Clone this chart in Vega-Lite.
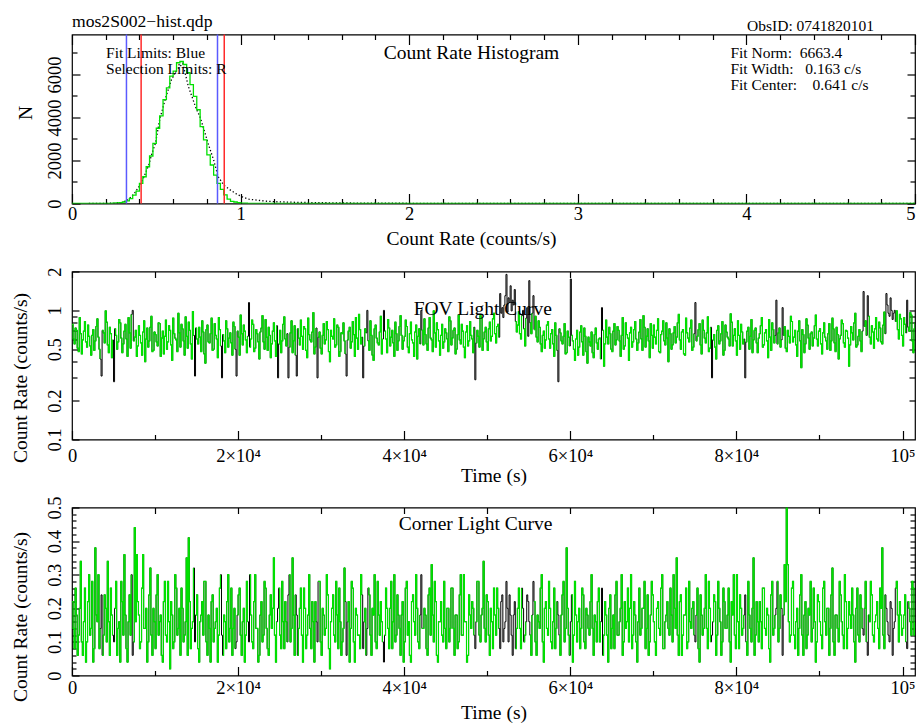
{
  "$schema": "https://vega.github.io/schema/vega-lite/v6.json",
  "padding": {"left": 10, "top": 11.5, "right": 0, "bottom": 0},
  "spacing": 68,
  "bounds": "flush",
  "config": {
    "background": "white",
    "font": "Liberation Serif",
    "view": {"stroke": "#000", "strokeWidth": 1.2},
    "axis": {"grid": false, "domain": false, "tickColor": "#000", "tickWidth": 1.2, "labelColor": "#000", "titleColor": "#000", "labelFont": "Liberation Serif", "titleFont": "Liberation Serif", "labelFontSize": 18.5, "titleFontSize": 19.5, "titleFontWeight": "normal", "labelFlush": false, "labelOverlap": false, "labelBound": false}
  },
  "datasets": {
    "lc": [
{"t":0,"f":0.78,"c":0.22,"s":1},{"t":125,"f":0.60,"c":0.14,"s":1},{"t":250,"f":0.55,"c":0.08,"s":1},{"t":375,"f":0.73,"c":0.26,"s":1},{"t":500,"f":0.70,"c":0.18,"s":1},{"t":625,"f":0.51,"c":0.06,"s":1},{"t":750,"f":0.48,"c":0.12,"s":1},{"t":875,"f":0.88,"c":0.20,"s":1},{"t":1000,"f":0.66,"c":0.34,"s":1},{"t":1125,"f":0.46,"c":0.10,"s":1},
{"t":1250,"f":0.59,"c":0.06,"s":1},{"t":1375,"f":0.69,"c":0.16,"s":1},{"t":1500,"f":0.82,"c":0.26,"s":1},{"t":1625,"f":0.57,"c":0.04,"s":1},{"t":1750,"f":0.52,"c":0.10,"s":1},{"t":1875,"f":0.77,"c":0.22,"s":1},{"t":2000,"f":0.63,"c":0.30,"s":1},{"t":2125,"f":0.53,"c":0.12,"s":1},{"t":2250,"f":0.45,"c":0.14,"s":1},{"t":2375,"f":0.64,"c":0.28,"s":1},
{"t":2500,"f":0.71,"c":0.04,"s":1},{"t":2625,"f":0.49,"c":0.08,"s":1},{"t":2750,"f":0.58,"c":0.38,"s":1},{"t":2875,"f":0.75,"c":0.18,"s":1},{"t":3000,"f":0.86,"c":0.16,"s":1},{"t":3125,"f":0.62,"c":0.30,"s":1},{"t":3250,"f":0.50,"c":0.08,"s":1},{"t":3375,"f":0.42,"c":0.14,"s":1},{"t":3500,"f":0.31,"c":0.24,"s":0},{"t":3625,"f":0.70,"c":0.06,"s":2},
{"t":3750,"f":0.67,"c":0.12,"s":2},{"t":3875,"f":0.56,"c":0.24,"s":2},{"t":4000,"f":0.99,"c":0.20,"s":2},{"t":4125,"f":0.81,"c":0.10,"s":2},{"t":4250,"f":0.54,"c":0.34,"s":2},{"t":4375,"f":0.47,"c":0.16,"s":2},{"t":4500,"f":0.74,"c":0.06,"s":2},{"t":4625,"f":0.66,"c":0.26,"s":2},{"t":4750,"f":0.43,"c":0.18,"s":2},{"t":4875,"f":0.59,"c":0.12,"s":2},
{"t":5000,"f":0.28,"c":0.10,"s":0},{"t":5125,"f":0.72,"c":0.20,"s":3},{"t":5250,"f":0.64,"c":0.28,"s":3},{"t":5375,"f":0.50,"c":0.06,"s":3},{"t":5500,"f":0.57,"c":0.14,"s":3},{"t":5625,"f":0.85,"c":0.16,"s":3},{"t":5750,"f":0.80,"c":0.04,"s":3},{"t":5875,"f":0.61,"c":0.28,"s":3},{"t":6000,"f":0.47,"c":0.22,"s":3},{"t":6125,"f":0.55,"c":0.12,"s":3},
{"t":6250,"f":0.69,"c":0.36,"s":3},{"t":6375,"f":0.78,"c":0.18,"s":3},{"t":6500,"f":0.60,"c":0.08,"s":3},{"t":6625,"f":0.44,"c":0.04,"s":3},{"t":6750,"f":0.88,"c":0.16,"s":3},{"t":6875,"f":0.67,"c":0.24,"s":3},{"t":7000,"f":0.51,"c":0.12,"s":3},{"t":7125,"f":0.93,"c":0.30,"s":3},{"t":7250,"f":1.0,"c":0.06,"s":0},{"t":7375,"f":0.58,"c":0.10,"s":4},
{"t":7500,"f":0.62,"c":0.44,"s":4},{"t":7625,"f":0.70,"c":0.16,"s":4},{"t":7750,"f":0.44,"c":0.36,"s":4},{"t":7875,"f":0.53,"c":0.22,"s":4},{"t":8000,"f":0.76,"c":0.18,"s":4},{"t":8125,"f":0.64,"c":0.08,"s":4},{"t":8250,"f":0.56,"c":0.10,"s":4},{"t":8375,"f":0.45,"c":0.26,"s":4},{"t":8500,"f":0.68,"c":0.36,"s":4},{"t":8625,"f":0.83,"c":0.14,"s":4},
{"t":8750,"f":0.40,"c":0.14,"s":4},{"t":8875,"f":0.60,"c":0.20,"s":4},{"t":9000,"f":0.73,"c":0.04,"s":4},{"t":9125,"f":0.52,"c":0.10,"s":4},{"t":9250,"f":0.58,"c":0.24,"s":4},{"t":9375,"f":0.74,"c":0.32,"s":4},{"t":9500,"f":0.90,"c":0.12,"s":4},{"t":9625,"f":0.48,"c":0.06,"s":4},{"t":9750,"f":0.49,"c":0.20,"s":4},{"t":9875,"f":0.68,"c":0.16,"s":4},
{"t":10000,"f":0.65,"c":0.08,"s":4},{"t":10125,"f":0.57,"c":0.24,"s":4},{"t":10250,"f":0.53,"c":0.30,"s":4},{"t":10375,"f":0.80,"c":0.12,"s":4},{"t":10500,"f":0.79,"c":0.16,"s":4},{"t":10625,"f":0.44,"c":0.18,"s":4},{"t":10750,"f":0.61,"c":0.06,"s":4},{"t":10875,"f":0.69,"c":0.04,"s":4},{"t":11000,"f":0.46,"c":0.22,"s":4},{"t":11125,"f":0.63,"c":0.28,"s":4},
{"t":11250,"f":0.84,"c":0.12,"s":4},{"t":11375,"f":0.50,"c":0.10,"s":4},{"t":11500,"f":0.57,"c":0.28,"s":4},{"t":11625,"f":0.76,"c":0.16,"s":4},{"t":11750,"f":0.70,"c":0.02,"s":4},{"t":11875,"f":0.54,"c":0.22,"s":4},{"t":12000,"f":0.41,"c":0.18,"s":4},{"t":12125,"f":0.87,"c":0.08,"s":4},{"t":12250,"f":0.66,"c":0.10,"s":4},{"t":12375,"f":0.61,"c":0.30,"s":4},
{"t":12500,"f":0.59,"c":0.26,"s":4},{"t":12625,"f":0.48,"c":0.12,"s":4},{"t":12750,"f":0.95,"c":0.14,"s":4},{"t":12875,"f":0.67,"c":0.20,"s":4},{"t":13000,"f":0.52,"c":0.06,"s":4},{"t":13125,"f":0.78,"c":0.26,"s":4},{"t":13250,"f":0.72,"c":0.20,"s":4},{"t":13375,"f":0.58,"c":0.10,"s":4},{"t":13500,"f":0.45,"c":0.12,"s":4},{"t":13625,"f":0.89,"c":0.16,"s":4},
{"t":13750,"f":0.63,"c":0.35,"s":4},{"t":13875,"f":0.51,"c":0.06,"s":4},{"t":14000,"f":0.81,"c":0.41,"s":4},{"t":14125,"f":0.70,"c":0.22,"s":4},{"t":14250,"f":0.55,"c":0.08,"s":4},{"t":14375,"f":0.42,"c":0.14,"s":4},{"t":14500,"f":0.98,"c":0.16,"s":4},{"t":14625,"f":0.64,"c":0.32,"s":4},{"t":14750,"f":0.31,"c":0.10,"s":0},{"t":14875,"f":0.73,"c":0.18,"s":5},
{"t":15000,"f":0.60,"c":0.24,"s":5},{"t":15125,"f":0.55,"c":0.08,"s":5},{"t":15250,"f":0.74,"c":0.04,"s":5},{"t":15375,"f":0.62,"c":0.16,"s":5},{"t":15500,"f":0.48,"c":0.18,"s":5},{"t":15625,"f":0.83,"c":0.22,"s":5},{"t":15750,"f":0.68,"c":0.12,"s":5},{"t":15875,"f":0.46,"c":0.28,"s":5},{"t":16000,"f":0.39,"c":0.28,"s":5},{"t":16125,"f":0.71,"c":0.10,"s":5},
{"t":16250,"f":0.77,"c":0.06,"s":5},{"t":16375,"f":0.57,"c":0.18,"s":5},{"t":16500,"f":0.56,"c":0.14,"s":5},{"t":16625,"f":0.66,"c":0.04,"s":5},{"t":16750,"f":0.87,"c":0.22,"s":5},{"t":16875,"f":0.49,"c":0.24,"s":5},{"t":17000,"f":0.50,"c":0.10,"s":5},{"t":17125,"f":0.79,"c":0.14,"s":5},{"t":17250,"f":0.64,"c":0.16,"s":5},{"t":17375,"f":0.60,"c":0.20,"s":5},
{"t":17500,"f":0.43,"c":0.04,"s":5},{"t":17625,"f":0.88,"c":0.12,"s":5},{"t":17750,"f":0.71,"c":0.26,"s":5},{"t":17875,"f":0.53,"c":0.30,"s":5},{"t":18000,"f":0.30,"c":0.12,"s":0},{"t":18125,"f":0.65,"c":0.06,"s":6},{"t":18250,"f":0.58,"c":0.18,"s":6},{"t":18375,"f":0.47,"c":0.16,"s":6},{"t":18500,"f":0.83,"c":0.08,"s":6},{"t":18625,"f":0.72,"c":0.22,"s":6},
{"t":18750,"f":0.52,"c":0.30,"s":6},{"t":18875,"f":0.61,"c":0.10,"s":6},{"t":19000,"f":0.67,"c":0.14,"s":6},{"t":19125,"f":0.56,"c":0.26,"s":6},{"t":19250,"f":0.45,"c":0.06,"s":6},{"t":19375,"f":0.81,"c":0.14,"s":6},{"t":19500,"f":0.75,"c":0.20,"s":6},{"t":19625,"f":0.50,"c":0.08,"s":6},{"t":19750,"f":0.31,"c":0.10,"s":0},{"t":19875,"f":0.69,"c":0.18,"s":7},
{"t":20000,"f":0.62,"c":0.24,"s":7},{"t":20125,"f":0.45,"c":0.26,"s":7},{"t":20250,"f":0.92,"c":0.12,"s":7},{"t":20375,"f":0.66,"c":0.06,"s":7},{"t":20500,"f":0.54,"c":0.16,"s":7},{"t":20625,"f":0.77,"c":0.20,"s":7},{"t":20750,"f":0.69,"c":0.04,"s":7},{"t":20875,"f":0.59,"c":0.12,"s":7},{"t":21000,"f":0.47,"c":0.28,"s":7},{"t":21125,"f":0.63,"c":0.16,"s":7},
{"t":21250,"f":1.15,"c":0.10,"s":0},{"t":21375,"f":0.52,"c":0.30,"s":8},{"t":21500,"f":0.60,"c":0.18,"s":8},{"t":21625,"f":0.84,"c":0.10,"s":8},{"t":21750,"f":0.78,"c":0.08,"s":8},{"t":21875,"f":0.48,"c":0.22,"s":8},{"t":22000,"f":0.51,"c":0.30,"s":8},{"t":22125,"f":0.71,"c":0.14,"s":8},{"t":22250,"f":0.66,"c":0.14,"s":8},{"t":22375,"f":0.57,"c":0.04,"s":8},
{"t":22500,"f":0.42,"c":0.06,"s":8},{"t":22625,"f":0.68,"c":0.18,"s":8},{"t":22750,"f":0.73,"c":0.22,"s":8},{"t":22875,"f":0.91,"c":0.10,"s":8},{"t":23000,"f":0.57,"c":0.12,"s":8},{"t":23125,"f":0.50,"c":0.28,"s":8},{"t":23250,"f":0.85,"c":0.26,"s":8},{"t":23375,"f":0.62,"c":0.14,"s":8},{"t":23500,"f":0.49,"c":0.08,"s":8},{"t":23625,"f":0.74,"c":0.06,"s":8},
{"t":23750,"f":0.64,"c":0.18,"s":8},{"t":23875,"f":0.43,"c":0.24,"s":8},{"t":24000,"f":0.55,"c":0.14,"s":8},{"t":24125,"f":0.69,"c":0.20,"s":8},{"t":24250,"f":0.80,"c":0.35,"s":8},{"t":24375,"f":0.58,"c":0.12,"s":8},{"t":24500,"f":0.44,"c":0.04,"s":8},{"t":24625,"f":0.76,"c":0.16,"s":8},{"t":24750,"f":0.30,"c":0.20,"s":0},{"t":24875,"f":0.55,"c":0.26,"s":9},
{"t":25000,"f":0.70,"c":0.12,"s":9},{"t":25125,"f":0.47,"c":0.08,"s":9},{"t":25250,"f":0.58,"c":0.28,"s":9},{"t":25375,"f":0.78,"c":0.16,"s":9},{"t":25500,"f":0.89,"c":0.08,"s":9},{"t":25625,"f":0.60,"c":0.22,"s":9},{"t":25750,"f":0.53,"c":0.16,"s":9},{"t":25875,"f":0.66,"c":0.10,"s":9},{"t":26000,"f":0.30,"c":0.24,"s":0},{"t":26125,"f":0.52,"c":0.30,"s":10},
{"t":26250,"f":0.67,"c":0.10,"s":10},{"t":26375,"f":0.83,"c":0.14,"s":10},{"t":26500,"f":0.47,"c":0.35,"s":10},{"t":26625,"f":0.58,"c":0.18,"s":10},{"t":26750,"f":0.76,"c":0.06,"s":10},{"t":26875,"f":0.45,"c":0.24,"s":10},{"t":27000,"f":0.31,"c":0.18,"s":0},{"t":27125,"f":0.72,"c":0.06,"s":11},{"t":27250,"f":0.61,"c":0.14,"s":11},{"t":27375,"f":0.54,"c":0.20,"s":11},
{"t":27500,"f":0.84,"c":0.26,"s":11},{"t":27625,"f":0.63,"c":0.12,"s":11},{"t":27750,"f":0.50,"c":0.04,"s":11},{"t":27875,"f":0.75,"c":0.26,"s":11},{"t":28000,"f":0.72,"c":0.20,"s":11},{"t":28125,"f":0.49,"c":0.08,"s":11},{"t":28250,"f":0.43,"c":0.12,"s":11},{"t":28375,"f":0.87,"c":0.18,"s":11},{"t":28500,"f":0.65,"c":0.30,"s":11},{"t":28625,"f":0.59,"c":0.14,"s":11},
{"t":28750,"f":0.57,"c":0.08,"s":11},{"t":28875,"f":0.68,"c":0.22,"s":11},{"t":29000,"f":0.96,"c":0.16,"s":11},{"t":29125,"f":0.46,"c":0.04,"s":11},{"t":29250,"f":0.52,"c":0.22,"s":11},{"t":29375,"f":0.73,"c":0.16,"s":11},{"t":29500,"f":0.30,"c":0.10,"s":0},{"t":29625,"f":0.62,"c":0.28,"s":12},{"t":29750,"f":0.68,"c":0.28,"s":12},{"t":29875,"f":0.51,"c":0.10,"s":12},
{"t":30000,"f":0.46,"c":0.06,"s":12},{"t":30125,"f":0.64,"c":0.20,"s":12},{"t":30250,"f":0.79,"c":0.18,"s":12},{"t":30375,"f":0.55,"c":0.12,"s":12},{"t":30500,"f":0.59,"c":0.14,"s":12},{"t":30625,"f":0.82,"c":0.30,"s":12},{"t":30750,"f":0.71,"c":0.24,"s":12},{"t":30875,"f":0.48,"c":0.08,"s":12},{"t":31000,"f":0.40,"c":0.02,"s":12},{"t":31125,"f":0.70,"c":0.16,"s":12},
{"t":31250,"f":0.63,"c":0.20,"s":12},{"t":31375,"f":0.60,"c":0.24,"s":12},{"t":31500,"f":0.86,"c":0.12,"s":12},{"t":31625,"f":0.52,"c":0.10,"s":12},{"t":31750,"f":0.54,"c":0.28,"s":12},{"t":31875,"f":0.77,"c":0.18,"s":12},{"t":32000,"f":0.74,"c":0.08,"s":12},{"t":32125,"f":0.44,"c":0.26,"s":12},{"t":32250,"f":0.48,"c":0.16,"s":12},{"t":32375,"f":0.67,"c":0.06,"s":12},
{"t":32500,"f":0.66,"c":0.10,"s":12},{"t":32625,"f":0.80,"c":0.14,"s":12},{"t":32750,"f":0.58,"c":0.32,"s":12},{"t":32875,"f":0.46,"c":0.22,"s":12},{"t":33000,"f":0.31,"c":0.06,"s":0},{"t":33125,"f":0.59,"c":0.16,"s":13},{"t":33250,"f":0.69,"c":0.22,"s":13},{"t":33375,"f":0.74,"c":0.04,"s":13},{"t":33500,"f":0.51,"c":0.14,"s":13},{"t":33625,"f":0.57,"c":0.28,"s":13},
{"t":33750,"f":0.82,"c":0.26,"s":13},{"t":33875,"f":0.65,"c":0.10,"s":13},{"t":34000,"f":0.44,"c":0.04,"s":13},{"t":34125,"f":0.88,"c":0.20,"s":13},{"t":34250,"f":0.61,"c":0.18,"s":13},{"t":34375,"f":0.50,"c":0.12,"s":13},{"t":34500,"f":0.93,"c":0.12,"s":13},{"t":34625,"f":0.71,"c":0.08,"s":13},{"t":34750,"f":0.55,"c":0.30,"s":13},{"t":34875,"f":0.62,"c":0.24,"s":13},
{"t":35000,"f":0.30,"c":0.08,"s":0},{"t":35125,"f":0.53,"c":0.16,"s":14},{"t":35250,"f":0.72,"c":0.20,"s":14},{"t":35375,"f":0.67,"c":0.06,"s":14},{"t":35500,"f":1.0,"c":0.14,"s":0},{"t":35625,"f":0.58,"c":0.26,"s":15},{"t":35750,"f":0.49,"c":0.24,"s":15},{"t":35875,"f":0.83,"c":0.12,"s":15},{"t":36000,"f":0.64,"c":0.06,"s":15},{"t":36125,"f":0.45,"c":0.20,"s":15},
{"t":36250,"f":0.41,"c":0.18,"s":15},{"t":36375,"f":0.72,"c":0.30,"s":15},{"t":36500,"f":0.77,"c":0.10,"s":15},{"t":36625,"f":0.61,"c":0.08,"s":15},{"t":36750,"f":0.56,"c":0.28,"s":15},{"t":36875,"f":0.54,"c":0.18,"s":15},{"t":37000,"f":0.68,"c":0.12,"s":15},{"t":37125,"f":0.90,"c":0.22,"s":15},{"t":37250,"f":0.46,"c":0.16,"s":15},{"t":37375,"f":0.60,"c":0.10,"s":15},
{"t":37500,"f":1.0,"c":0.04,"s":0},{"t":37625,"f":0.69,"c":0.12,"s":16},{"t":37750,"f":0.60,"c":0.26,"s":16},{"t":37875,"f":0.47,"c":0.20,"s":16},{"t":38000,"f":0.85,"c":0.14,"s":16},{"t":38125,"f":0.73,"c":0.08,"s":16},{"t":38250,"f":0.53,"c":0.20,"s":16},{"t":38375,"f":0.62,"c":0.28,"s":16},{"t":38500,"f":0.70,"c":0.08,"s":16},{"t":38625,"f":0.56,"c":0.16,"s":16},
{"t":38750,"f":0.44,"c":0.30,"s":16},{"t":38875,"f":0.81,"c":0.10,"s":16},{"t":39000,"f":0.66,"c":0.12,"s":16},{"t":39125,"f":0.49,"c":0.24,"s":16},{"t":39250,"f":0.58,"c":0.18,"s":16},{"t":39375,"f":0.75,"c":0.14,"s":16},{"t":39500,"f":0.91,"c":0.06,"s":16},{"t":39625,"f":0.64,"c":0.18,"s":16},{"t":39750,"f":0.50,"c":0.22,"s":16},{"t":39875,"f":0.58,"c":0.04,"s":16},
{"t":40000,"f":0.63,"c":0.10,"s":16},{"t":40125,"f":0.84,"c":0.26,"s":16},{"t":40250,"f":0.75,"c":0.28,"s":16},{"t":40375,"f":0.52,"c":0.12,"s":16},{"t":40500,"f":0.47,"c":0.16,"s":16},{"t":40625,"f":0.66,"c":0.06,"s":16},{"t":40750,"f":0.81,"c":0.04,"s":16},{"t":40875,"f":0.59,"c":0.22,"s":16},{"t":41000,"f":0.56,"c":0.24,"s":16},{"t":41125,"f":0.44,"c":0.16,"s":16},
{"t":41250,"f":0.68,"c":0.12,"s":16},{"t":41375,"f":0.77,"c":0.30,"s":16},{"t":41500,"f":0.42,"c":0.20,"s":16},{"t":41625,"f":0.63,"c":0.10,"s":16},{"t":41750,"f":0.72,"c":0.08,"s":16},{"t":41875,"f":0.55,"c":0.18,"s":16},{"t":42000,"f":1.0,"c":0.30,"s":0},{"t":42125,"f":0.70,"c":0.14,"s":17},{"t":42250,"f":0.54,"c":0.14,"s":17},{"t":42375,"f":0.86,"c":0.20,"s":17},
{"t":42500,"f":0.65,"c":0.18,"s":17},{"t":42625,"f":0.55,"c":0.08,"s":17},{"t":42750,"f":0.49,"c":0.06,"s":17},{"t":42875,"f":0.73,"c":0.24,"s":17},{"t":43000,"f":0.88,"c":0.26,"s":17},{"t":43125,"f":0.61,"c":0.12,"s":17},{"t":43250,"f":0.59,"c":0.33,"s":17},{"t":43375,"f":0.48,"c":0.18,"s":17},{"t":43500,"f":0.99,"c":0.10,"s":17},{"t":43625,"f":0.67,"c":0.28,"s":17},
{"t":43750,"f":0.52,"c":0.22,"s":17},{"t":43875,"f":0.80,"c":0.06,"s":17},{"t":44000,"f":0.71,"c":0.04,"s":17},{"t":44125,"f":0.58,"c":0.16,"s":17},{"t":44250,"f":0.45,"c":0.16,"s":17},{"t":44375,"f":0.64,"c":0.22,"s":17},{"t":44500,"f":0.78,"c":0.12,"s":17},{"t":44625,"f":0.51,"c":0.10,"s":17},{"t":44750,"f":0.57,"c":0.28,"s":17},{"t":44875,"f":0.72,"c":0.14,"s":17},
{"t":45000,"f":0.67,"c":0.08,"s":17},{"t":45125,"f":0.60,"c":0.20,"s":17},{"t":45250,"f":0.48,"c":0.20,"s":17},{"t":45375,"f":0.89,"c":0.10,"s":17},{"t":45500,"f":0.83,"c":0.14,"s":17},{"t":45625,"f":0.54,"c":0.26,"s":17},{"t":45750,"f":0.61,"c":0.26,"s":17},{"t":45875,"f":0.70,"c":0.14,"s":17},{"t":46000,"f":0.73,"c":0.06,"s":17},{"t":46125,"f":0.46,"c":0.18,"s":17},
{"t":46250,"f":0.50,"c":0.18,"s":17},{"t":46375,"f":0.65,"c":0.08,"s":17},{"t":46500,"f":0.92,"c":0.10,"s":17},{"t":46625,"f":0.59,"c":0.24,"s":17},{"t":46750,"f":0.55,"c":0.30,"s":17},{"t":46875,"f":0.78,"c":0.12,"s":17},{"t":47000,"f":0.69,"c":0.12,"s":17},{"t":47125,"f":0.52,"c":0.30,"s":17},{"t":47250,"f":0.43,"c":0.16,"s":17},{"t":47375,"f":0.68,"c":0.16,"s":17},
{"t":47500,"f":0.76,"c":0.04,"s":17},{"t":47625,"f":0.53,"c":0.06,"s":17},{"t":47750,"f":0.58,"c":0.24,"s":17},{"t":47875,"f":0.82,"c":0.18,"s":17},{"t":48000,"f":0.64,"c":0.14,"s":17},{"t":48125,"f":0.60,"c":0.22,"s":17},{"t":48250,"f":0.47,"c":0.20,"s":17},{"t":48375,"f":0.74,"c":0.12,"s":17},{"t":48500,"f":0.29,"c":0.08,"s":0},{"t":48625,"f":0.56,"c":0.16,"s":18},
{"t":48750,"f":0.70,"c":0.28,"s":18},{"t":48875,"f":0.63,"c":0.28,"s":18},{"t":49000,"f":0.52,"c":0.12,"s":18},{"t":49125,"f":0.91,"c":0.10,"s":18},{"t":49250,"f":0.87,"c":0.18,"s":18},{"t":49375,"f":0.49,"c":0.20,"s":18},{"t":49500,"f":0.60,"c":0.34,"s":18},{"t":49625,"f":0.68,"c":0.14,"s":18},{"t":49750,"f":0.74,"c":0.10,"s":18},{"t":49875,"f":0.57,"c":0.24,"s":18},
{"t":50000,"f":0.49,"c":0.22,"s":18},{"t":50125,"f":0.72,"c":0.12,"s":18},{"t":50250,"f":0.81,"c":0.06,"s":18},{"t":50375,"f":0.58,"c":0.20,"s":18},{"t":50500,"f":0.63,"c":0.16,"s":18},{"t":50625,"f":0.86,"c":0.08,"s":18},{"t":50750,"f":0.95,"c":0.26,"s":18},{"t":50875,"f":0.66,"c":0.18,"s":18},{"t":51000,"f":0.56,"c":0.12,"s":18},{"t":51125,"f":0.75,"c":0.26,"s":18},
{"t":51250,"f":0.78,"c":0.20,"s":18},{"t":51375,"f":0.62,"c":0.14,"s":18},{"t":51500,"f":1.35,"c":0.08,"s":0},{"t":51625,"f":0.95,"c":0.22,"s":0},{"t":51750,"f":1.05,"c":0.24,"s":0},{"t":51875,"f":0.88,"c":0.10,"s":0},{"t":52000,"f":1.1,"c":0.14,"s":0},{"t":52125,"f":1.3,"c":0.16,"s":0},{"t":52250,"f":1.9,"c":0.28,"s":0},{"t":52375,"f":0.97,"c":0.20,"s":0},
{"t":52500,"f":1.25,"c":0.10,"s":0},{"t":52625,"f":1.15,"c":0.24,"s":0},{"t":52750,"f":1.55,"c":0.18,"s":0},{"t":52875,"f":0.99,"c":0.12,"s":0},{"t":53000,"f":1.2,"c":0.06,"s":0},{"t":53125,"f":1.1,"c":0.18,"s":0},{"t":53250,"f":1.45,"c":0.22,"s":0},{"t":53375,"f":0.82,"c":0.08,"s":19},{"t":53500,"f":0.68,"c":0.14,"s":19},{"t":53625,"f":0.77,"c":0.20,"s":19},
{"t":53750,"f":0.98,"c":0.26,"s":19},{"t":53875,"f":0.66,"c":0.14,"s":19},{"t":54000,"f":0.60,"c":0.08,"s":19},{"t":54125,"f":0.91,"c":0.26,"s":19},{"t":54250,"f":1.0,"c":0.20,"s":0},{"t":54375,"f":0.72,"c":0.10,"s":20},{"t":54500,"f":0.53,"c":0.12,"s":20},{"t":54625,"f":0.87,"c":0.16,"s":20},{"t":54750,"f":1.05,"c":0.24,"s":0},{"t":54875,"f":0.63,"c":0.22,"s":0},
{"t":55000,"f":1.7,"c":0.16,"s":0},{"t":55125,"f":0.80,"c":0.12,"s":21},{"t":55250,"f":0.66,"c":0.06,"s":21},{"t":55375,"f":0.95,"c":0.18,"s":21},{"t":55500,"f":1.3,"c":0.28,"s":0},{"t":55625,"f":0.71,"c":0.22,"s":22},{"t":55750,"f":0.90,"c":0.10,"s":22},{"t":55875,"f":0.62,"c":0.06,"s":22},{"t":56000,"f":0.57,"c":0.18,"s":22},{"t":56125,"f":0.83,"c":0.16,"s":22},
{"t":56250,"f":0.74,"c":0.14,"s":22},{"t":56375,"f":0.55,"c":0.26,"s":22},{"t":56500,"f":0.48,"c":0.30,"s":22},{"t":56625,"f":0.64,"c":0.10,"s":22},{"t":56750,"f":0.69,"c":0.04,"s":22},{"t":56875,"f":0.51,"c":0.20,"s":22},{"t":57000,"f":0.59,"c":0.22,"s":22},{"t":57125,"f":0.77,"c":0.14,"s":22},{"t":57250,"f":0.82,"c":0.12,"s":22},{"t":57375,"f":0.60,"c":0.28,"s":22},
{"t":57500,"f":0.51,"c":0.20,"s":22},{"t":57625,"f":0.66,"c":0.10,"s":22},{"t":57750,"f":0.71,"c":0.08,"s":22},{"t":57875,"f":0.55,"c":0.16,"s":22},{"t":58000,"f":0.44,"c":0.26,"s":22},{"t":58125,"f":0.80,"c":0.08,"s":22},{"t":58250,"f":0.64,"c":0.14,"s":22},{"t":58375,"f":0.49,"c":0.22,"s":22},{"t":58500,"f":0.28,"c":0.18,"s":0},{"t":58625,"f":0.72,"c":0.12,"s":23},
{"t":58750,"f":0.67,"c":0.06,"s":23},{"t":58875,"f":0.58,"c":0.18,"s":23},{"t":59000,"f":0.55,"c":0.24,"s":23},{"t":59125,"f":0.63,"c":0.28,"s":23},{"t":59250,"f":0.79,"c":0.10,"s":23},{"t":59375,"f":0.46,"c":0.14,"s":23},{"t":59500,"f":0.47,"c":0.38,"s":23},{"t":59625,"f":0.69,"c":0.20,"s":23},{"t":59750,"f":0.62,"c":0.12,"s":23},{"t":59875,"f":0.53,"c":0.06,"s":23},
{"t":60000,"f":1.75,"c":0.16,"s":0},{"t":60125,"f":0.64,"c":0.24,"s":24},{"t":60250,"f":0.58,"c":0.04,"s":24},{"t":60375,"f":0.50,"c":0.12,"s":24},{"t":60500,"f":0.41,"c":0.28,"s":24},{"t":60625,"f":0.60,"c":0.18,"s":24},{"t":60750,"f":0.70,"c":0.10,"s":24},{"t":60875,"f":0.45,"c":0.16,"s":24},{"t":61000,"f":0.52,"c":0.20,"s":24},{"t":61125,"f":0.68,"c":0.08,"s":24},
{"t":61250,"f":0.76,"c":0.14,"s":24},{"t":61375,"f":0.57,"c":0.26,"s":24},{"t":61500,"f":0.45,"c":0.24,"s":24},{"t":61625,"f":0.73,"c":0.10,"s":24},{"t":61750,"f":0.63,"c":0.08,"s":24},{"t":61875,"f":0.48,"c":0.20,"s":24},{"t":62000,"f":0.39,"c":0.18,"s":24},{"t":62125,"f":0.62,"c":0.14,"s":24},{"t":62250,"f":0.57,"c":0.12,"s":24},{"t":62375,"f":0.53,"c":0.22,"s":24},
{"t":62500,"f":0.68,"c":0.30,"s":24},{"t":62625,"f":0.47,"c":0.14,"s":24},{"t":62750,"f":0.43,"c":0.06,"s":24},{"t":62875,"f":0.65,"c":0.18,"s":24},{"t":63000,"f":0.73,"c":0.16,"s":24},{"t":63125,"f":0.56,"c":0.10,"s":24},{"t":63250,"f":0.50,"c":0.22,"s":24},{"t":63375,"f":0.60,"c":0.26,"s":24},{"t":63500,"f":0.61,"c":0.10,"s":24},{"t":63625,"f":0.42,"c":0.16,"s":24},
{"t":63750,"f":1.05,"c":0.26,"s":0},{"t":63875,"f":0.70,"c":0.06,"s":25},{"t":64000,"f":0.37,"c":0.12,"s":25},{"t":64125,"f":0.55,"c":0.22,"s":25},{"t":64250,"f":0.84,"c":0.18,"s":25},{"t":64375,"f":0.62,"c":0.12,"s":25},{"t":64500,"f":0.55,"c":0.04,"s":25},{"t":64625,"f":0.74,"c":0.20,"s":25},{"t":64750,"f":0.66,"c":0.24,"s":25},{"t":64875,"f":0.50,"c":0.08,"s":25},
{"t":65000,"f":0.48,"c":0.14,"s":25},{"t":65125,"f":0.69,"c":0.18,"s":25},{"t":65250,"f":0.79,"c":0.08,"s":25},{"t":65375,"f":0.54,"c":0.24,"s":25},{"t":65500,"f":0.59,"c":0.28,"s":25},{"t":65625,"f":0.75,"c":0.12,"s":25},{"t":65750,"f":0.70,"c":0.12,"s":25},{"t":65875,"f":0.58,"c":0.16,"s":25},{"t":66000,"f":0.44,"c":0.20,"s":25},{"t":66125,"f":0.64,"c":0.30,"s":25},
{"t":66250,"f":0.88,"c":0.06,"s":25},{"t":66375,"f":0.50,"c":0.10,"s":25},{"t":66500,"f":0.53,"c":0.22,"s":25},{"t":66625,"f":0.80,"c":0.14,"s":25},{"t":66750,"f":0.65,"c":0.16,"s":25},{"t":66875,"f":0.61,"c":0.26,"s":25},{"t":67000,"f":0.41,"c":0.10,"s":25},{"t":67125,"f":0.67,"c":0.20,"s":25},{"t":67250,"f":0.74,"c":0.30,"s":25},{"t":67375,"f":0.52,"c":0.08,"s":25},
{"t":67500,"f":0.57,"c":0.12,"s":25},{"t":67625,"f":0.71,"c":0.22,"s":25},{"t":67750,"f":0.82,"c":0.18,"s":25},{"t":67875,"f":0.60,"c":0.10,"s":25},{"t":68000,"f":0.49,"c":0.04,"s":25},{"t":68125,"f":0.56,"c":0.16,"s":25},{"t":68250,"f":0.68,"c":0.26,"s":25},{"t":68375,"f":0.85,"c":0.12,"s":25},{"t":68500,"f":0.60,"c":0.14,"s":25},{"t":68625,"f":0.49,"c":0.20,"s":25},
{"t":68750,"f":0.91,"c":0.20,"s":25},{"t":68875,"f":0.74,"c":0.28,"s":25},{"t":69000,"f":0.52,"c":0.08,"s":25},{"t":69125,"f":0.63,"c":0.14,"s":25},{"t":69250,"f":0.72,"c":0.24,"s":25},{"t":69375,"f":0.58,"c":0.06,"s":25},{"t":69500,"f":0.43,"c":0.10,"s":25},{"t":69625,"f":0.79,"c":0.18,"s":25},{"t":69750,"f":0.64,"c":0.28,"s":25},{"t":69875,"f":0.51,"c":0.24,"s":25},
{"t":70000,"f":0.77,"c":0.16,"s":25},{"t":70125,"f":0.62,"c":0.10,"s":25},{"t":70250,"f":0.55,"c":0.06,"s":25},{"t":70375,"f":0.70,"c":0.20,"s":25},{"t":70500,"f":0.86,"c":0.22,"s":25},{"t":70625,"f":0.48,"c":0.14,"s":25},{"t":70750,"f":0.47,"c":0.12,"s":25},{"t":70875,"f":0.65,"c":0.26,"s":25},{"t":71000,"f":0.69,"c":0.30,"s":25},{"t":71125,"f":0.83,"c":0.08,"s":25},
{"t":71250,"f":0.58,"c":0.08,"s":25},{"t":71375,"f":0.54,"c":0.16,"s":25},{"t":71500,"f":0.80,"c":0.18,"s":25},{"t":71625,"f":0.61,"c":0.22,"s":25},{"t":71750,"f":0.40,"c":0.14,"s":25},{"t":71875,"f":0.72,"c":0.12,"s":25},{"t":72000,"f":0.66,"c":0.26,"s":25},{"t":72125,"f":0.50,"c":0.18,"s":25},{"t":72250,"f":0.54,"c":0.10,"s":25},{"t":72375,"f":0.67,"c":0.30,"s":25},
{"t":72500,"f":0.75,"c":0.20,"s":25},{"t":72625,"f":0.56,"c":0.14,"s":25},{"t":72750,"f":0.62,"c":0.35,"s":25},{"t":72875,"f":0.80,"c":0.12,"s":25},{"t":73000,"f":0.93,"c":0.06,"s":25},{"t":73125,"f":0.59,"c":0.22,"s":25},{"t":73250,"f":0.50,"c":0.24,"s":25},{"t":73375,"f":0.68,"c":0.06,"s":25},{"t":73500,"f":0.71,"c":0.12,"s":25},{"t":73625,"f":0.46,"c":0.18,"s":25},
{"t":73750,"f":0.45,"c":0.18,"s":25},{"t":73875,"f":0.87,"c":0.26,"s":25},{"t":74000,"f":0.67,"c":0.08,"s":25},{"t":74125,"f":0.61,"c":0.10,"s":25},{"t":74250,"f":0.57,"c":0.28,"s":25},{"t":74375,"f":0.73,"c":0.16,"s":25},{"t":74500,"f":0.84,"c":0.14,"s":25},{"t":74625,"f":0.49,"c":0.20,"s":25},{"t":74750,"f":0.52,"c":0.22,"s":25},{"t":74875,"f":0.66,"c":0.12,"s":25},
{"t":75000,"f":1.15,"c":0.10,"s":0},{"t":75125,"f":0.58,"c":0.18,"s":26},{"t":75250,"f":0.63,"c":0.26,"s":26},{"t":75375,"f":0.71,"c":0.08,"s":26},{"t":75500,"f":0.79,"c":0.04,"s":26},{"t":75625,"f":0.54,"c":0.24,"s":26},{"t":75750,"f":0.46,"c":0.18,"s":26},{"t":75875,"f":0.84,"c":0.12,"s":26},{"t":76000,"f":0.70,"c":0.14,"s":26},{"t":76125,"f":0.61,"c":0.20,"s":26},
{"t":76250,"f":0.56,"c":0.30,"s":26},{"t":76375,"f":0.67,"c":0.14,"s":26},{"t":76500,"f":0.89,"c":0.08,"s":26},{"t":76625,"f":0.48,"c":0.28,"s":26},{"t":76750,"f":0.51,"c":0.20,"s":26},{"t":76875,"f":0.74,"c":0.10,"s":26},{"t":77000,"f":0.30,"c":0.12,"s":0},{"t":77125,"f":0.59,"c":0.16,"s":27},{"t":77250,"f":0.65,"c":0.24,"s":27},{"t":77375,"f":0.52,"c":0.22,"s":27},
{"t":77500,"f":0.42,"c":0.06,"s":27},{"t":77625,"f":0.70,"c":0.12,"s":27},{"t":77750,"f":0.76,"c":0.28,"s":27},{"t":77875,"f":0.55,"c":0.20,"s":27},{"t":78000,"f":0.58,"c":0.16,"s":27},{"t":78125,"f":0.66,"c":0.06,"s":27},{"t":78250,"f":0.82,"c":0.10,"s":27},{"t":78375,"f":0.45,"c":0.26,"s":27},{"t":78500,"f":0.49,"c":0.22,"s":27},{"t":78625,"f":0.77,"c":0.14,"s":27},
{"t":78750,"f":0.68,"c":0.14,"s":27},{"t":78875,"f":0.62,"c":0.18,"s":27},{"t":79000,"f":0.60,"c":0.26,"s":27},{"t":79125,"f":0.53,"c":0.10,"s":27},{"t":79250,"f":0.94,"c":0.04,"s":27},{"t":79375,"f":0.81,"c":0.22,"s":27},{"t":79500,"f":0.53,"c":0.18,"s":27},{"t":79625,"f":0.64,"c":0.30,"s":27},{"t":79750,"f":0.72,"c":0.12,"s":27},{"t":79875,"f":0.58,"c":0.08,"s":27},
{"t":80000,"f":0.45,"c":0.30,"s":27},{"t":80125,"f":0.83,"c":0.16,"s":27},{"t":80250,"f":0.64,"c":0.08,"s":27},{"t":80375,"f":0.50,"c":0.24,"s":27},{"t":80500,"f":0.78,"c":0.20,"s":27},{"t":80625,"f":0.68,"c":0.12,"s":27},{"t":80750,"f":0.55,"c":0.14,"s":27},{"t":80875,"f":0.60,"c":0.18,"s":27},{"t":81000,"f":0.30,"c":0.24,"s":0},{"t":81125,"f":0.57,"c":0.10,"s":28},
{"t":81250,"f":0.69,"c":0.06,"s":28},{"t":81375,"f":0.74,"c":0.28,"s":28},{"t":81500,"f":0.50,"c":0.18,"s":28},{"t":81625,"f":0.63,"c":0.14,"s":28},{"t":81750,"f":0.85,"c":0.10,"s":28},{"t":81875,"f":0.47,"c":0.20,"s":28},{"t":82000,"f":0.59,"c":0.35,"s":28},{"t":82125,"f":0.70,"c":0.06,"s":28},{"t":82250,"f":0.73,"c":0.12,"s":28},{"t":82375,"f":0.56,"c":0.22,"s":28},
{"t":82500,"f":0.47,"c":0.16,"s":28},{"t":82625,"f":0.61,"c":0.10,"s":28},{"t":82750,"f":0.66,"c":0.22,"s":28},{"t":82875,"f":0.76,"c":0.16,"s":28},{"t":83000,"f":0.88,"c":0.08,"s":28},{"t":83125,"f":0.52,"c":0.26,"s":28},{"t":83250,"f":0.54,"c":0.26,"s":28},{"t":83375,"f":0.67,"c":0.14,"s":28},{"t":83500,"f":0.71,"c":0.12,"s":28},{"t":83625,"f":0.58,"c":0.20,"s":28},
{"t":83750,"f":0.43,"c":0.18,"s":28},{"t":83875,"f":0.85,"c":0.08,"s":28},{"t":84000,"f":0.62,"c":0.04,"s":28},{"t":84125,"f":0.49,"c":0.24,"s":28},{"t":84250,"f":0.80,"c":0.28,"s":28},{"t":84375,"f":0.71,"c":0.12,"s":28},{"t":84500,"f":0.56,"c":0.14,"s":28},{"t":84625,"f":0.64,"c":0.18,"s":28},{"t":84750,"f":1.2,"c":0.20,"s":0},{"t":84875,"f":0.55,"c":0.28,"s":29},
{"t":85000,"f":0.67,"c":0.10,"s":29},{"t":85125,"f":0.73,"c":0.14,"s":29},{"t":85250,"f":0.52,"c":0.24,"s":29},{"t":85375,"f":0.59,"c":0.20,"s":29},{"t":85500,"f":1.05,"c":0.06,"s":0},{"t":85625,"f":0.64,"c":0.18,"s":30},{"t":85750,"f":0.75,"c":0.33,"s":30},{"t":85875,"f":0.51,"c":0.22,"s":30},{"t":86000,"f":0.48,"c":0.50,"s":30},{"t":86125,"f":0.70,"c":0.33,"s":30},
{"t":86250,"f":0.63,"c":0.16,"s":30},{"t":86375,"f":0.56,"c":0.10,"s":30},{"t":86500,"f":0.90,"c":0.12,"s":30},{"t":86625,"f":0.82,"c":0.26,"s":30},{"t":86750,"f":0.57,"c":0.28,"s":30},{"t":86875,"f":0.62,"c":0.12,"s":30},{"t":87000,"f":0.70,"c":0.08,"s":30},{"t":87125,"f":0.54,"c":0.16,"s":30},{"t":87250,"f":0.44,"c":0.20,"s":30},{"t":87375,"f":0.69,"c":0.06,"s":30},
{"t":87500,"f":0.83,"c":0.14,"s":30},{"t":87625,"f":0.58,"c":0.24,"s":30},{"t":87750,"f":0.36,"c":0.30,"s":30},{"t":87875,"f":0.71,"c":0.12,"s":30},{"t":88000,"f":0.65,"c":0.06,"s":30},{"t":88125,"f":0.47,"c":0.18,"s":30},{"t":88250,"f":0.55,"c":0.22,"s":30},{"t":88375,"f":0.86,"c":0.08,"s":30},{"t":88500,"f":0.77,"c":0.12,"s":30},{"t":88625,"f":0.61,"c":0.20,"s":30},
{"t":88750,"f":0.50,"c":0.18,"s":30},{"t":88875,"f":0.66,"c":0.28,"s":30},{"t":89000,"f":0.68,"c":0.10,"s":30},{"t":89125,"f":0.53,"c":0.14,"s":30},{"t":89250,"f":0.61,"c":0.26,"s":30},{"t":89375,"f":0.76,"c":0.16,"s":30},{"t":89500,"f":0.92,"c":0.04,"s":30},{"t":89625,"f":0.60,"c":0.10,"s":30},{"t":89750,"f":0.53,"c":0.24,"s":30},{"t":89875,"f":0.69,"c":0.22,"s":30},
{"t":90000,"f":0.72,"c":0.16,"s":30},{"t":90125,"f":0.55,"c":0.12,"s":30},{"t":90250,"f":0.46,"c":0.08,"s":30},{"t":90375,"f":0.67,"c":0.26,"s":30},{"t":90500,"f":0.80,"c":0.28,"s":30},{"t":90625,"f":0.62,"c":0.16,"s":30},{"t":90750,"f":0.58,"c":0.12,"s":30},{"t":90875,"f":0.50,"c":0.20,"s":30},{"t":91000,"f":0.66,"c":0.20,"s":30},{"t":91125,"f":0.79,"c":0.06,"s":30},
{"t":91250,"f":0.49,"c":0.14,"s":30},{"t":91375,"f":0.58,"c":0.24,"s":30},{"t":91500,"f":0.87,"c":0.32,"s":30},{"t":91625,"f":0.72,"c":0.10,"s":30},{"t":91750,"f":0.56,"c":0.06,"s":30},{"t":91875,"f":0.48,"c":0.18,"s":30},{"t":92000,"f":0.74,"c":0.18,"s":30},{"t":92125,"f":0.65,"c":0.14,"s":30},{"t":92250,"f":0.42,"c":0.10,"s":30},{"t":92375,"f":0.60,"c":0.28,"s":30},
{"t":92500,"f":0.64,"c":0.24,"s":30},{"t":92625,"f":0.84,"c":0.16,"s":30},{"t":92750,"f":0.79,"c":0.12,"s":30},{"t":92875,"f":0.56,"c":0.08,"s":30},{"t":93000,"f":0.52,"c":0.30,"s":30},{"t":93125,"f":0.70,"c":0.22,"s":30},{"t":93250,"f":0.69,"c":0.08,"s":30},{"t":93375,"f":0.61,"c":0.14,"s":30},{"t":93500,"f":0.37,"c":0.22,"s":30},{"t":93625,"f":0.54,"c":0.18,"s":30},
{"t":93750,"f":0.75,"c":0.14,"s":30},{"t":93875,"f":0.67,"c":0.26,"s":30},{"t":94000,"f":0.59,"c":0.18,"s":30},{"t":94125,"f":0.80,"c":0.10,"s":30},{"t":94250,"f":0.95,"c":0.04,"s":30},{"t":94375,"f":0.52,"c":0.20,"s":30},{"t":94500,"f":0.54,"c":0.26,"s":30},{"t":94625,"f":0.63,"c":0.12,"s":30},{"t":94750,"f":0.71,"c":0.10,"s":30},{"t":94875,"f":0.58,"c":0.24,"s":30},
{"t":95000,"f":0.48,"c":0.20,"s":30},{"t":95125,"f":0.69,"c":0.14,"s":30},{"t":95250,"f":1.4,"c":0.12,"s":0},{"t":95375,"f":0.75,"c":0.20,"s":31},{"t":95500,"f":0.83,"c":0.28,"s":31},{"t":95625,"f":0.64,"c":0.10,"s":31},{"t":95750,"f":1.3,"c":0.06,"s":0},{"t":95875,"f":0.90,"c":0.18,"s":32},{"t":96000,"f":0.62,"c":0.16,"s":32},{"t":96125,"f":0.55,"c":0.28,"s":32},
{"t":96250,"f":0.76,"c":0.24,"s":32},{"t":96375,"f":0.68,"c":0.12,"s":32},{"t":96500,"f":0.51,"c":0.10,"s":32},{"t":96625,"f":0.72,"c":0.16,"s":32},{"t":96750,"f":0.88,"c":0.18,"s":32},{"t":96875,"f":0.60,"c":0.22,"s":32},{"t":97000,"f":0.58,"c":0.14,"s":32},{"t":97125,"f":0.81,"c":0.08,"s":32},{"t":97250,"f":0.73,"c":0.26,"s":32},{"t":97375,"f":0.57,"c":0.20,"s":32},
{"t":97500,"f":0.55,"c":0.38,"s":32},{"t":97625,"f":0.77,"c":0.12,"s":32},{"t":97750,"f":0.97,"c":0.08,"s":32},{"t":97875,"f":0.66,"c":0.24,"s":32},{"t":98000,"f":1.35,"c":0.20,"s":0},{"t":98125,"f":1.1,"c":0.16,"s":0},{"t":98250,"f":0.95,"c":0.12,"s":0},{"t":98375,"f":0.9,"c":0.10,"s":0},{"t":98500,"f":1.25,"c":0.22,"s":0},{"t":98625,"f":1.0,"c":0.20,"s":0},
{"t":98750,"f":0.85,"c":0.06,"s":0},{"t":98875,"f":0.95,"c":0.14,"s":0},{"t":99000,"f":1.0,"c":0.16,"s":0},{"t":99125,"f":0.82,"c":0.26,"s":33},{"t":99250,"f":0.99,"c":0.28,"s":33},{"t":99375,"f":0.71,"c":0.18,"s":33},{"t":99500,"f":0.60,"c":0.10,"s":33},{"t":99625,"f":0.93,"c":0.22,"s":33},{"t":99750,"f":0.86,"c":0.18,"s":33},{"t":99875,"f":0.64,"c":0.12,"s":33},
{"t":100000,"f":0.53,"c":0.14,"s":33},{"t":100125,"f":0.88,"c":0.18,"s":33},{"t":100250,"f":0.78,"c":0.24,"s":33},{"t":100375,"f":0.67,"c":0.10,"s":33},{"t":100500,"f":1.2,"c":0.08,"s":0},{"t":100625,"f":0.74,"c":0.22,"s":34},{"t":100750,"f":0.69,"c":0.20,"s":34},{"t":100875,"f":0.96,"c":0.16,"s":34},{"t":101000,"f":0.92,"c":0.12,"s":34},{"t":101125,"f":0.58,"c":0.28,"s":34},
{"t":101250,"f":0.47,"c":0.26,"s":34},{"t":101375,"f":0.72,"c":0.12,"s":34},{"t":101500,"f":0.81,"c":0.16,"s":34}
    ]
  },
  "vconcat": [
    {
      "width": 843,
      "height": 169,
      "layer": [
        {
          "data": {"values": [
            {"r":0.10,"n":0},{"r":0.21,"n":8},{"r":0.25,"n":20},{"r":0.29,"n":45},{"r":0.31,"n":95},{"r":0.33,"n":170},{"r":0.35,"n":300},{"r":0.37,"n":470},{"r":0.39,"n":700},{"r":0.41,"n":930},{"r":0.43,"n":1300},{"r":0.455,"n":1790},{"r":0.475,"n":2350},{"r":0.495,"n":2805},{"r":0.52,"n":3895},{"r":0.555,"n":4910},{"r":0.59,"n":5765},{"r":0.624,"n":6235},{"r":0.657,"n":6515},{"r":0.69,"n":5450},{"r":0.733,"n":4490},{"r":0.762,"n":3970},{"r":0.81,"n":2725},{"r":0.84,"n":2025},{"r":0.867,"n":1245},{"r":0.90,"n":855},{"r":0.94,"n":620},{"r":0.98,"n":420},{"r":1.01,"n":310},{"r":1.05,"n":200},{"r":1.10,"n":155},{"r":1.15,"n":107},{"r":1.20,"n":85},{"r":1.30,"n":60},{"r":1.40,"n":45},{"r":1.50,"n":35},{"r":1.60,"n":25},{"r":1.80,"n":15},{"r":2.00,"n":10},{"r":2.50,"n":5},{"r":3.00,"n":3},{"r":4.00,"n":1},{"r":5.00,"n":0}
          ]},
          "mark": {"type": "line", "color": "#000", "strokeWidth": 1.3, "strokeDash": [1.3, 2.2], "clip": true},
          "encoding": {
            "x": {"field": "r", "type": "quantitative", "scale": {"domain": [0, 5], "nice": false, "zero": false},
                  "axis": {"orient": "bottom", "values": [0.2,0.4,0.6,0.8,1.2,1.4,1.6,1.8,2.2,2.4,2.6,2.8,3.2,3.4,3.6,3.8,4.2,4.4,4.6,4.8], "tickSize": -5, "labels": false, "title": null}},
            "y": {"field": "n", "type": "quantitative", "scale": {"domain": [0, 7860], "nice": false},
                  "axis": {"orient": "left", "values": [1000, 3000, 5000, 7000], "tickSize": -5, "labels": false, "title": null}}
          }
        },
        {
          "data": {"values": [
            {"r":0,"n":0},{"r":0.2,"n":5},{"r":0.22,"n":10},{"r":0.24,"n":15},{"r":0.26,"n":25},{"r":0.28,"n":40},{"r":0.30,"n":70},{"r":0.32,"n":120},{"r":0.34,"n":230},{"r":0.36,"n":390},{"r":0.38,"n":575},{"r":0.40,"n":935},{"r":0.42,"n":1245},{"r":0.44,"n":1710},{"r":0.46,"n":2210},{"r":0.48,"n":2800},{"r":0.50,"n":3500},{"r":0.52,"n":4080},{"r":0.54,"n":4830},{"r":0.56,"n":5375},{"r":0.58,"n":5920},{"r":0.60,"n":6155},{"r":0.62,"n":6545},{"r":0.64,"n":6605},{"r":0.66,"n":6465},{"r":0.68,"n":6080},{"r":0.70,"n":5530},{"r":0.72,"n":4985},{"r":0.74,"n":4360},{"r":0.76,"n":3580},{"r":0.78,"n":2960},{"r":0.80,"n":2260},{"r":0.82,"n":1790},{"r":0.84,"n":1320},{"r":0.86,"n":935},{"r":0.88,"n":655},{"r":0.90,"n":400},{"r":0.92,"n":200},{"r":0.94,"n":100},{"r":0.96,"n":70},{"r":0.98,"n":35},{"r":1.00,"n":15},{"r":1.04,"n":5},{"r":1.10,"n":0},{"r":5,"n":0}
          ]},
          "mark": {"type": "line", "interpolate": "step-after", "color": "#00e000", "strokeWidth": 1.3, "clip": true},
          "encoding": {
            "x": {"field": "r", "type": "quantitative", "scale": {"domain": [0, 5], "nice": false, "zero": false},
                  "axis": {"orient": "bottom", "values": [0, 1, 2, 3, 4, 5], "format": "d", "tickSize": -10, "labelPadding": 11,
                           "labelAlign": {"condition": {"test": "datum.value == 5", "value": "right"}, "value": "center"},
                           "title": "Count Rate (counts/s)", "titlePadding": 6.8, "titleX": 399}},
            "y": {"field": "n", "type": "quantitative", "scale": {"domain": [0, 7860], "nice": false},
                  "axis": {"orient": "left", "values": [0, 2000, 4000, 6000], "format": "d", "tickSize": -8, "labelAngle": -90, "labelAlign": "center", "labelBaseline": "alphabetic", "labelPadding": 19.5, "title": "N", "titlePadding": 10, "titleY": 78}}
          }
        },
        {
          "data": {"values": [
            {"r": 0.323, "k": "fit"}, {"r": 0.863, "k": "fit"}, {"r": 0.41, "k": "sel"}, {"r": 0.903, "k": "sel"}
          ]},
          "mark": {"type": "rule", "strokeWidth": 1.5},
          "encoding": {
            "x": {"field": "r", "type": "quantitative", "scale": {"domain": [0, 5], "nice": false, "zero": false},
                  "axis": {"orient": "top", "values": [0, 1, 2, 3, 4, 5], "tickSize": -10, "labels": false, "title": null}},
            "color": {"field": "k", "type": "nominal", "scale": {"domain": ["fit", "sel"], "range": ["#5a5aff", "#ff2a2a"]}, "legend": null}
          }
        },
        {
          "data": {"values": [{"r": 0, "n": 8232, "s": "mos2S002\u2212hist.qdp"}]},
          "mark": {"type": "text", "align": "left", "baseline": "alphabetic", "font": "Liberation Serif", "fontSize": 17.6, "color": "#000"},
          "encoding": {
            "x": {"field": "r", "type": "quantitative", "scale": {"domain": [0, 5], "nice": false, "zero": false},
                  "axis": {"orient": "top", "values": [0.2,0.4,0.6,0.8,1.2,1.4,1.6,1.8,2.2,2.4,2.6,2.8,3.2,3.4,3.6,3.8,4.2,4.4,4.6,4.8], "tickSize": -5, "labels": false, "title": null}},
            "y": {"field": "n", "type": "quantitative", "scale": {"domain": [0, 7860], "nice": false},
                  "axis": {"orient": "right", "values": [0, 2000, 4000, 6000], "tickSize": -8, "labels": false, "title": null}},
            "text": {"field": "s"}
          }
        },
        {
          "data": {"values": [{"r": 1.849, "n": 6730, "s": "Count Rate Histogram"}]},
          "mark": {"type": "text", "align": "left", "baseline": "alphabetic", "font": "Liberation Serif", "fontSize": 19.5, "color": "#000"},
          "encoding": {
            "x": {"field": "r", "type": "quantitative", "scale": {"domain": [0, 5], "nice": false, "zero": false}, "axis": null},
            "y": {"field": "n", "type": "quantitative", "scale": {"domain": [0, 7860], "nice": false},
                  "axis": {"orient": "right", "values": [1000, 3000, 5000, 7000], "tickSize": -5, "labels": false, "title": null}},
            "text": {"field": "s"}
          }
        },
        {
          "data": {"values": [
            {"r": 0.2017, "n": 6776, "s": "Fit Limits: Blue"},
            {"r": 0.2017, "n": 6023, "s": "Selection Limits: R"},
            {"r": 3.905, "n": 6776, "s": "Fit Norm:\u00a0\u00a06663.4"},
            {"r": 3.905, "n": 6023, "s": "Fit Width:\u00a0\u00a0\u00a00.163 c/s"},
            {"r": 3.905, "n": 5256, "s": "Fit Center:\u00a0\u00a0\u00a0\u00a00.641 c/s"},
            {"r": 4.004, "n": 8032, "s": "ObsID: 0741820101"}
          ]},
          "mark": {"type": "text", "align": "left", "baseline": "alphabetic", "font": "Liberation Serif", "fontSize": 15.5, "color": "#000"},
          "encoding": {
            "x": {"field": "r", "type": "quantitative", "scale": {"domain": [0, 5], "nice": false, "zero": false}, "axis": null},
            "y": {"field": "n", "type": "quantitative", "scale": {"domain": [0, 7860], "nice": false}, "axis": null},
            "text": {"field": "s"}
          }
        }
      ],
      "resolve": {"axis": {"x": "independent", "y": "independent"}}
    },
    {
      "width": 843,
      "height": 168,
      "layer": [
        {
          "data": {"name": "lc"},
          "mark": {"type": "line", "interpolate": "step-after", "color": "#000", "strokeWidth": 1, "clip": true},
          "encoding": {
            "x": {"field": "t", "type": "quantitative", "scale": {"domain": [0, 101500], "nice": false, "zero": false},
                  "axis": {"orient": "bottom", "values": [10000, 30000, 50000, 70000, 90000], "tickSize": -5, "labels": false, "title": null}},
            "y": {"field": "f", "type": "quantitative", "scale": {"type": "log", "domain": [0.1, 2], "nice": false},
                  "axis": {"orient": "left", "values": [0.3, 0.4, 0.6, 0.7, 0.8, 0.9], "tickSize": -5, "labels": false, "title": null}}
          }
        },
        {
          "data": {"name": "lc"},
          "transform": [{"filter": "datum.s > 0"}],
          "mark": {"type": "line", "interpolate": "step-after", "color": "#00e000", "strokeWidth": 1.2, "clip": true},
          "encoding": {
            "x": {"field": "t", "type": "quantitative", "scale": {"domain": [0, 101500], "nice": false, "zero": false},
                  "axis": {"orient": "bottom", "values": [0, 20000, 40000, 60000, 80000, 100000], "tickSize": -9, "labelPadding": 16.4,
                           "labelExpr": "datum.value == 0 ? '0' : datum.value == 100000 ? '10\u2075' : (datum.value / 10000) + '\u00d710\u2074'",
                           "title": "Time (s)", "titlePadding": 1.4}},
            "y": {"field": "f", "type": "quantitative", "scale": {"type": "log", "domain": [0.1, 2], "nice": false},
                  "axis": {"orient": "left", "values": [0.1, 0.2, 0.5, 1, 2], "format": "~g", "tickSize": -7, "labelAngle": -90, "labelAlign": "center", "labelBaseline": "alphabetic", "labelPadding": 18.5,
                           "title": "Count Rate (counts/s)", "titlePadding": 14.6, "titleY": 106}},
            "detail": {"field": "s", "type": "nominal"}
          }
        },
        {
          "data": {"values": [{"t": 41140, "v": 0.9127, "s": "FOV Light Curve"}]},
          "mark": {"type": "text", "align": "left", "baseline": "alphabetic", "font": "Liberation Serif", "fontSize": 19.5, "color": "#000"},
          "encoding": {
            "x": {"field": "t", "type": "quantitative", "scale": {"domain": [0, 101500], "nice": false, "zero": false},
                  "axis": {"orient": "top", "values": [0, 10000, 20000, 30000, 40000, 50000, 60000, 70000, 80000, 90000, 100000], "tickSize": -6, "labels": false, "title": null}},
            "y": {"field": "v", "type": "quantitative", "scale": {"type": "log", "domain": [0.1, 2], "nice": false},
                  "axis": {"orient": "right", "values": [0.2, 0.3, 0.4, 0.5, 0.6, 0.7, 0.8, 0.9, 1], "tickSize": -6, "labels": false, "title": null}},
            "text": {"field": "s"}
          }
        }
      ],
      "resolve": {"axis": {"x": "independent", "y": "independent"}}
    },
    {
      "width": 843,
      "height": 168,
      "layer": [
        {
          "data": {"name": "lc"},
          "mark": {"type": "line", "interpolate": "step-after", "color": "#000", "strokeWidth": 1, "clip": true},
          "encoding": {
            "x": {"field": "t", "type": "quantitative", "scale": {"domain": [0, 101500], "nice": false, "zero": false},
                  "axis": {"orient": "bottom", "values": [10000, 30000, 50000, 70000, 90000], "tickSize": -5, "labels": false, "title": null}},
            "y": {"field": "c", "type": "quantitative", "scale": {"domain": [0, 0.5], "nice": false},
                  "axis": {"orient": "left", "values": [0.02,0.04,0.06,0.08,0.12,0.14,0.16,0.18,0.22,0.24,0.26,0.28,0.32,0.34,0.36,0.38,0.42,0.44,0.46,0.48], "tickSize": -4, "labels": false, "title": null}}
          }
        },
        {
          "data": {"name": "lc"},
          "transform": [{"filter": "datum.s > 0"}],
          "mark": {"type": "line", "interpolate": "step-after", "color": "#00e000", "strokeWidth": 1.2, "clip": true},
          "encoding": {
            "x": {"field": "t", "type": "quantitative", "scale": {"domain": [0, 101500], "nice": false, "zero": false},
                  "axis": {"orient": "bottom", "values": [0, 20000, 40000, 60000, 80000, 100000], "tickSize": -9, "labelPadding": 12.3,
                           "labelExpr": "datum.value == 0 ? '0' : datum.value == 100000 ? '10\u2075' : (datum.value / 10000) + '\u00d710\u2074'",
                           "title": "Time (s)", "titlePadding": 6.5}},
            "y": {"field": "c", "type": "quantitative", "scale": {"domain": [0, 0.5], "nice": false},
                  "axis": {"orient": "left", "values": [0, 0.1, 0.2, 0.3, 0.4, 0.5], "format": "~g", "tickSize": -7, "labelAngle": -90, "labelAlign": "center", "labelBaseline": "alphabetic", "labelPadding": 18.5,
                           "title": "Count Rate (counts/s)", "titlePadding": 14.6, "titleY": 109}},
            "detail": {"field": "s", "type": "nominal"}
          }
        },
        {
          "data": {"values": [{"t": 39330, "v": 0.4336, "s": "Corner Light Curve"}]},
          "mark": {"type": "text", "align": "left", "baseline": "alphabetic", "font": "Liberation Serif", "fontSize": 19.5, "color": "#000"},
          "encoding": {
            "x": {"field": "t", "type": "quantitative", "scale": {"domain": [0, 101500], "nice": false, "zero": false},
                  "axis": {"orient": "top", "values": [0, 10000, 20000, 30000, 40000, 50000, 60000, 70000, 80000, 90000, 100000], "tickSize": -6, "labels": false, "title": null}},
            "y": {"field": "v", "type": "quantitative", "scale": {"domain": [0, 0.5], "nice": false},
                  "axis": {"orient": "right", "values": [0.02,0.04,0.06,0.08,0.1,0.12,0.14,0.16,0.18,0.2,0.22,0.24,0.26,0.28,0.3,0.32,0.34,0.36,0.38,0.4,0.42,0.44,0.46,0.48], "tickSize": -5, "labels": false, "title": null}},
            "text": {"field": "s"}
          }
        }
      ],
      "resolve": {"axis": {"x": "independent", "y": "independent"}}
    }
  ]
}
